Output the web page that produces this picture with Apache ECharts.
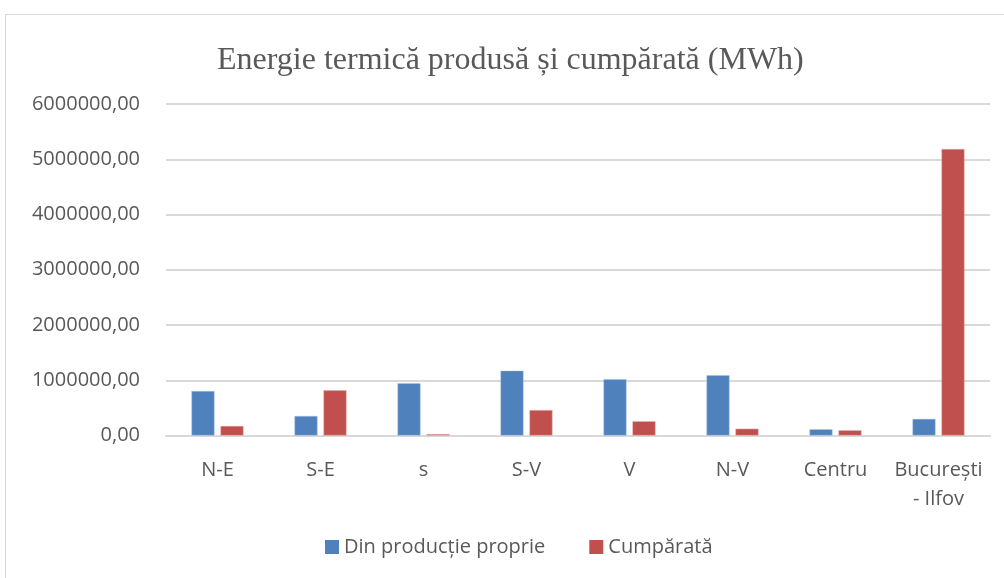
<!DOCTYPE html>
<html style="height: 100%">
   <head>
       <meta charset="utf-8">
   </head>
   <body style="height: 100%; margin: 0; background: #fff">
       <div id="frame" style="position: absolute; left: 5px; top: 14px; width: 1010px; height: 580px; border: 1px solid #d9d9d9; box-sizing: border-box"></div>
       <div id="container" style="position: absolute; left: 0; top: 0; width: 1004px; height: 578px"></div>
       <script type="text/javascript" src="https://cdn.jsdelivr.net/npm/echarts@6/dist/echarts.min.js"></script>
       <script type="text/javascript">
var regions = ['N-E', 'S-E', 's', 'S-V', 'V', 'N-V', 'Centru', 'București\n- Ilfov'];
var productieProprie = [805000, 353000, 945000, 1173000, 1020000, 1090000, 112000, 300000];
var cumparata = [172000, 818000, 25000, 460000, 257000, 123000, 94000, 5185000];
var seriesNames = ['Din producție proprie', 'Cumpărată'];

var dom = document.getElementById("container");
var myChart = echarts.init(dom);
var gray = '#595959';
var sans = '"Open Sans", sans-serif';

var option = {
    animation: false,
    title: {
        text: 'Energie termică produsă și cumpărată (MWh)',
        left: 212,
        top: 40,
        textStyle: {
            fontFamily: '"Liberation Serif", serif',
            fontWeight: 'normal',
            fontSize: 32,
            color: gray
        }
    },
    legend: {
        data: seriesNames,
        bottom: 16,
        left: 320,
        itemWidth: 14,
        itemHeight: 14,
        itemGap: 44,
        icon: 'rect',
        itemStyle: { borderWidth: 0 },
        textStyle: { fontFamily: sans, fontSize: 20, color: gray }
    },
    grid: {
        left: 166,
        right: 14,
        top: 104,
        bottom: 142.5,
        containLabel: false
    },
    xAxis: {
        type: 'category',
        data: regions,
        axisTick: { show: false },
        axisLine: { lineStyle: { color: '#d9d9d9', width: 2 } },
        axisLabel: {
            interval: 0,
            fontFamily: sans,
            fontSize: 20,
            color: gray,
            margin: 20,
            lineHeight: 29
        }
    },
    yAxis: {
        type: 'value',
        min: 0,
        max: 6000000,
        interval: 1000000,
        axisLine: { show: false },
        axisTick: { show: false },
        splitLine: { lineStyle: { color: '#d9d9d9', width: 2 } },
        axisLabel: {
            fontFamily: sans,
            fontSize: 20,
            color: gray,
            margin: 26,
            formatter: function (v) { return v.toFixed(2).replace('.', ','); }
        }
    },
    series: [{
        name: seriesNames[0],
        type: 'bar',
        data: productieProprie,
        barWidth: 23,
        barGap: '26%',
        itemStyle: { color: '#4F81BD', borderColor: '#a9c2e3', borderWidth: 0.5 }
    }, {
        name: seriesNames[1],
        type: 'bar',
        data: cumparata,
        barWidth: 23,
        itemStyle: { color: '#C0504D', borderColor: '#e0a8a6', borderWidth: 0.5 }
    }]
};
myChart.setOption(option);
       </script>
   </body>
</html>
